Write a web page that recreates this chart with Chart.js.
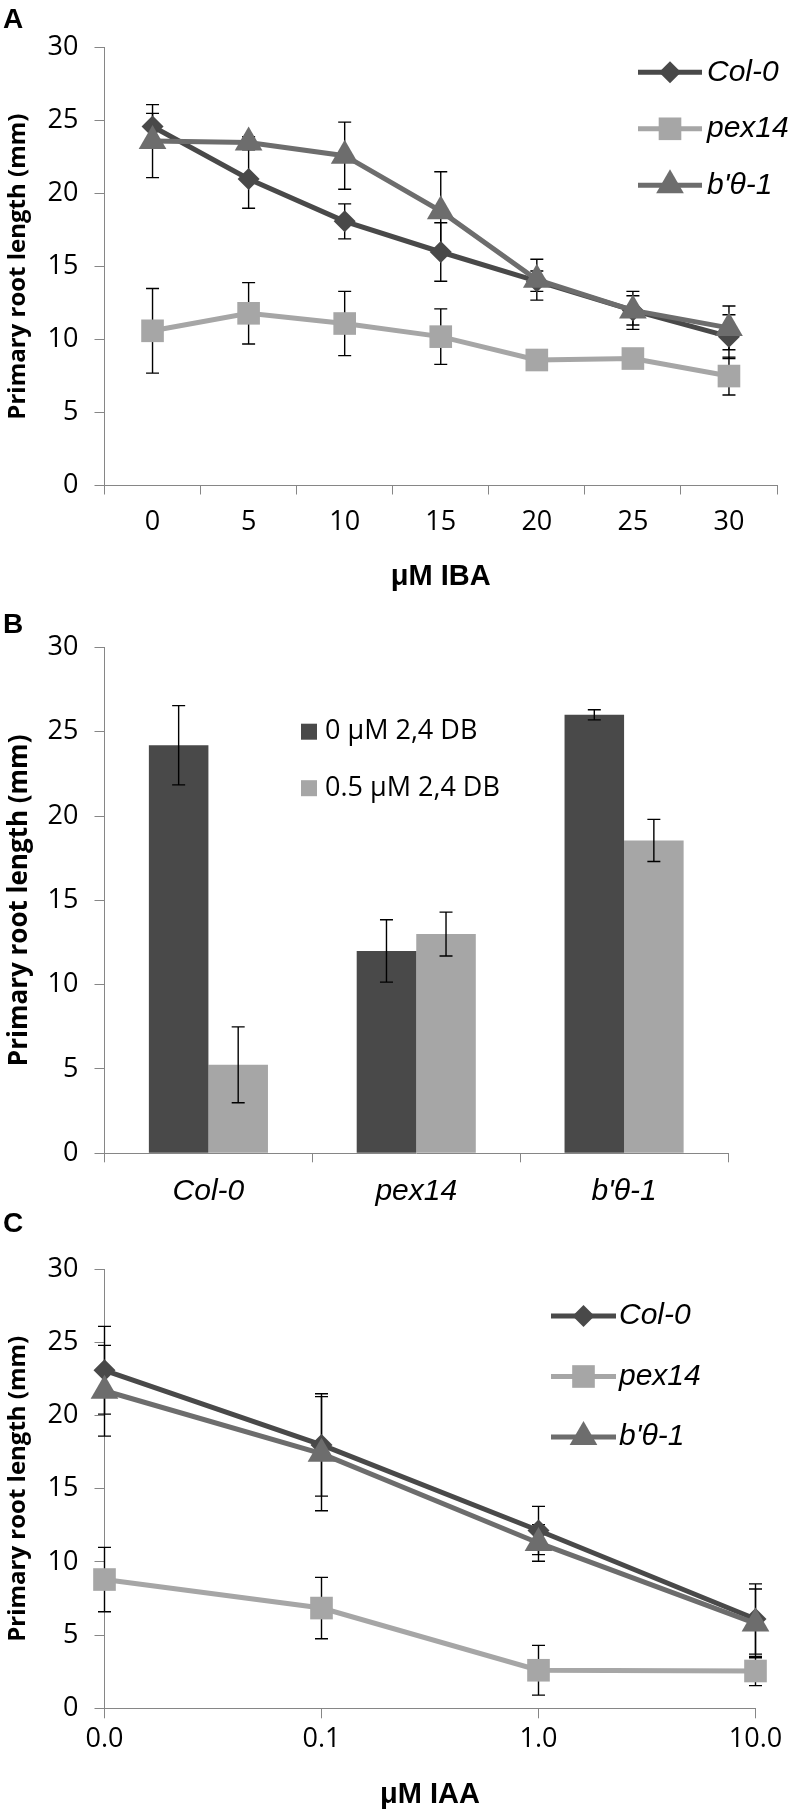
<!DOCTYPE html>
<html>
<head>
<meta charset="utf-8">
<script src="https://cdn.jsdelivr.net/npm/chart.js@4.4.1/dist/chart.umd.min.js"></script>
<style>
  body { margin: 0; background: #fff; }
  canvas { position: absolute; left: 0; }
</style>
</head>
<body>
<canvas id="chartA" width="793" height="600" style="top:0px"></canvas>
<canvas id="chartB" width="793" height="620" style="top:600px"></canvas>
<canvas id="chartC" width="793" height="613" style="top:1200px"></canvas>
<script>
// A: root length vs IBA dose
const ibaDoses = ['0', '5', '10', '15', '20', '25', '30']
const ibaCol0 = [24.6, 21.0, 18.1, 16.0, 14.0, 12.0, 10.2]
const ibaCol0Err = [0.9, 2.0, 1.2, 2.0, 0.7, 1.0, 1.5]
const ibaPex14 = [10.6, 11.8, 11.1, 10.2, 8.6, 8.7, 7.5]
const ibaPex14Err = [2.9, 2.1, 2.2, 1.9, 0.4, 0.4, 1.3]
const ibaB0 = [23.6, 23.5, 22.6, 18.8, 14.1, 12.0, 10.8]
const ibaB0Err = [2.5, 0.4, 2.3, 2.7, 1.4, 1.3, 1.5]

// B: root length with / without 2,4 DB
const genotypes = ['Col-0', 'pex14', "b'θ-1"]
const db0 = [24.2, 12.0, 26.0]
const db0Err = [2.35, 1.85, 0.3]
const db05 = [5.25, 13.0, 18.55]
const db05Err = [2.25, 1.3, 1.25]

// C: root length vs IAA dose
const iaaDoses = ['0.0', '0.1', '1.0', '10.0']
const iaaCol0 = [23.1, 18.0, 12.15, 6.1]
const iaaCol0Err = [3.0, 3.5, 1.65, 2.4]
const iaaPex14 = [8.8, 6.85, 2.6, 2.55]
const iaaPex14Err = [2.2, 2.1, 1.7, 1.0]
const iaaB0 = [21.7, 17.4, 11.3, 5.8]
const iaaB0Err = [3.1, 3.9, 1.25, 2.35]

// y axis range (mm)
const yMin = 0
const yMax = 30
const yStep = 5

const dark = '#494949'
const mid = '#6d6d6d'
const light = '#a6a6a6'
const axisColor = '#868686'

Chart.defaults.font.family = 'Open Sans'
Chart.defaults.color = '#000'

// error bars, drawn from each dataset's "errors" array
const errorBars = {
    id: 'errorBars',
    beforeDatasetsDraw(chart, args, opts) {
        if (opts.under) drawErrorBars(chart, opts)
    },
    afterDatasetsDraw(chart, args, opts) {
        if (!opts.under) drawErrorBars(chart, opts)
    }
}

function drawErrorBars(chart, opts) {
    const ctx = chart.ctx
    const yScale = chart.scales.y
    ctx.save()
    ctx.strokeStyle = '#000'
    ctx.lineWidth = 1.4
    chart.data.datasets.forEach((ds, i) => {
        const meta = chart.getDatasetMeta(i)
        meta.data.forEach((el, j) => {
            const v = ds.data[j]
            const e = ds.errors[j]
            const top = yScale.getPixelForValue(v + e)
            const bot = yScale.getPixelForValue(v - e)
            const x = el.x
            ctx.beginPath()
            ctx.moveTo(x, top); ctx.lineTo(x, bot)
            ctx.moveTo(x - opts.cap, top); ctx.lineTo(x + opts.cap, top)
            ctx.moveTo(x - opts.cap, bot); ctx.lineTo(x + opts.cap, bot)
            ctx.stroke()
        })
    })
    ctx.restore()
}

// legend drawn inside the plot, like the original
const innerLegend = {
    id: 'innerLegend',
    afterDraw(chart, args, opts) {
        const ctx = chart.ctx
        chart.data.datasets.forEach((ds, i) => {
            const y = opts.y + i * opts.gap
            ctx.save()
            if (opts.kind === 'line') {
                ctx.strokeStyle = ds.borderColor
                ctx.lineWidth = ds.borderWidth
                ctx.beginPath()
                ctx.moveTo(opts.x, y)
                ctx.lineTo(opts.x + opts.length, y)
                ctx.stroke()
                ctx.fillStyle = ds.backgroundColor
                if (Chart.helpers && Chart.helpers.drawPoint) {
                    Chart.helpers.drawPoint(ctx, { pointStyle: ds.pointStyle, radius: ds.pointRadius, rotation: 0, borderWidth: 0 }, opts.x + opts.length / 2, y)
                }
            } else {
                ctx.fillStyle = ds.backgroundColor
                ctx.fillRect(opts.x, y - opts.box / 2, opts.box, opts.box)
            }
            ctx.fillStyle = '#000'
            ctx.font = opts.font
            ctx.textAlign = 'left'
            ctx.textBaseline = 'middle'
            ctx.fillText(ds.label, opts.textX, y)
            ctx.restore()
        })
    }
}

const panelLetter = {
    id: 'panelLetter',
    afterDraw(chart, args, opts) {
        const ctx = chart.ctx
        ctx.save()
        ctx.fillStyle = '#000'
        ctx.font = 'bold 28px "Liberation Sans"'
        ctx.textBaseline = 'alphabetic'
        ctx.fillText(opts.text, opts.x, opts.y)
        ctx.restore()
    }
}

function lineSeries(label, data, errors, color, style, radius, order) {
    return {
        label: label,
        data: data,
        errors: errors,
        borderColor: color,
        backgroundColor: color,
        borderWidth: 5,
        pointStyle: style,
        pointRadius: radius,
        pointBorderWidth: 0,
        tension: 0,
        clip: false,
        order: order
    }
}

function yAxis(titleSize, titlePad) {
    return {
        min: yMin,
        max: yMax,
        ticks: { stepSize: yStep, padding: 16, font: { size: 27 } },
        grid: { drawOnChartArea: false, tickLength: 10, color: axisColor },
        border: { color: axisColor },
        title: {
            display: true,
            text: 'Primary root length (mm)',
            padding: { top: titlePad, bottom: 0 },
            font: { weight: 'bold', size: titleSize }
        },
        afterFit: s => { s.width = 104.5 }
    }
}

function xAxis(opts) {
    return {
        offset: opts.offset,
        grid: { offset: opts.offset, drawOnChartArea: false, tickLength: opts.tick, color: axisColor },
        border: { color: axisColor },
        ticks: { padding: opts.pad, font: opts.font, maxRotation: 0, autoSkip: false },
        title: opts.title ? {
            display: true,
            text: opts.title,
            padding: { top: 0, bottom: opts.titlePad },
            font: { family: 'Liberation Sans', weight: 'bold', size: 29 }
        } : { display: false },
        afterFit: s => { s.height = opts.height }
    }
}

const common = {
    responsive: false,
    animation: false,
    devicePixelRatio: 1,
    events: []
}

// Panel A
new Chart(document.getElementById('chartA'), {
    type: 'line',
    data: {
        labels: ibaDoses,
        datasets: [
            lineSeries('Col-0', ibaCol0, ibaCol0Err, dark, 'rectRot', 11, 3),
            lineSeries('pex14', ibaPex14, ibaPex14Err, light, 'rect', 16, 2),
            lineSeries("b'θ-1", ibaB0, ibaB0Err, mid, 'triangle', 16, 1)
        ]
    },
    options: {
        ...common,
        layout: { padding: { top: 47.7, right: 10, left: 0, bottom: 0 } },
        scales: {
            x: xAxis({ offset: true, tick: 9, pad: 12, font: { size: 27 }, title: 'μM IBA', titlePad: 6, height: 114.5 }),
            y: yAxis(24, 4)
        },
        plugins: {
            legend: { display: false },
            tooltip: { enabled: false },
            errorBars: { under: true, cap: 6.5 },
            innerLegend: { kind: 'line', x: 638, length: 64, textX: 707, y: 72.3, gap: 56.5, font: 'italic 30px "Liberation Sans"' },
            panelLetter: { text: 'A', x: 3, y: 28 }
        }
    },
    plugins: [errorBars, innerLegend, panelLetter]
})

// Panel B
new Chart(document.getElementById('chartB'), {
    type: 'bar',
    data: {
        labels: genotypes,
        datasets: [
            { label: '0 μM 2,4 DB', data: db0, errors: db0Err, backgroundColor: dark, barPercentage: 1, categoryPercentage: 0.573 },
            { label: '0.5 μM 2,4 DB', data: db05, errors: db05Err, backgroundColor: light, barPercentage: 1, categoryPercentage: 0.573 }
        ]
    },
    options: {
        ...common,
        layout: { padding: { top: 47.4, right: 65, left: 0, bottom: 0 } },
        scales: {
            x: xAxis({ offset: true, tick: 9, pad: 11, font: { family: 'Liberation Sans', style: 'italic', size: 30 }, height: 66.7 }),
            y: yAxis(26, 4)
        },
        plugins: {
            legend: { display: false },
            tooltip: { enabled: false },
            errorBars: { under: false, cap: 6.5 },
            innerLegend: { kind: 'box', x: 301, box: 16, textX: 325, y: 131.7, gap: 56.5, font: '27px "Open Sans"' },
            panelLetter: { text: 'B', x: 3, y: 33 }
        }
    },
    plugins: [errorBars, innerLegend, panelLetter]
})

// Panel C
new Chart(document.getElementById('chartC'), {
    type: 'line',
    data: {
        labels: iaaDoses,
        datasets: [
            lineSeries('Col-0', iaaCol0, iaaCol0Err, dark, 'rectRot', 11, 3),
            lineSeries('pex14', iaaPex14, iaaPex14Err, light, 'rect', 16, 2),
            lineSeries("b'θ-1", iaaB0, iaaB0Err, mid, 'triangle', 16, 1)
        ]
    },
    options: {
        ...common,
        layout: { padding: { top: 69.3, right: 37.5, left: 0, bottom: 0 } },
        scales: {
            x: xAxis({ offset: false, tick: 10, pad: 5, font: { size: 27 }, title: 'μM IAA', titlePad: 1, height: 104.7 }),
            y: yAxis(24, 4)
        },
        plugins: {
            legend: { display: false },
            tooltip: { enabled: false },
            errorBars: { under: true, cap: 6.5 },
            innerLegend: { kind: 'line', x: 551, length: 65, textX: 619, y: 116, gap: 60.5, font: 'italic 30px "Liberation Sans"' },
            panelLetter: { text: 'C', x: 3, y: 32 }
        }
    },
    plugins: [errorBars, innerLegend, panelLetter]
})
</script>
</body>
</html>
